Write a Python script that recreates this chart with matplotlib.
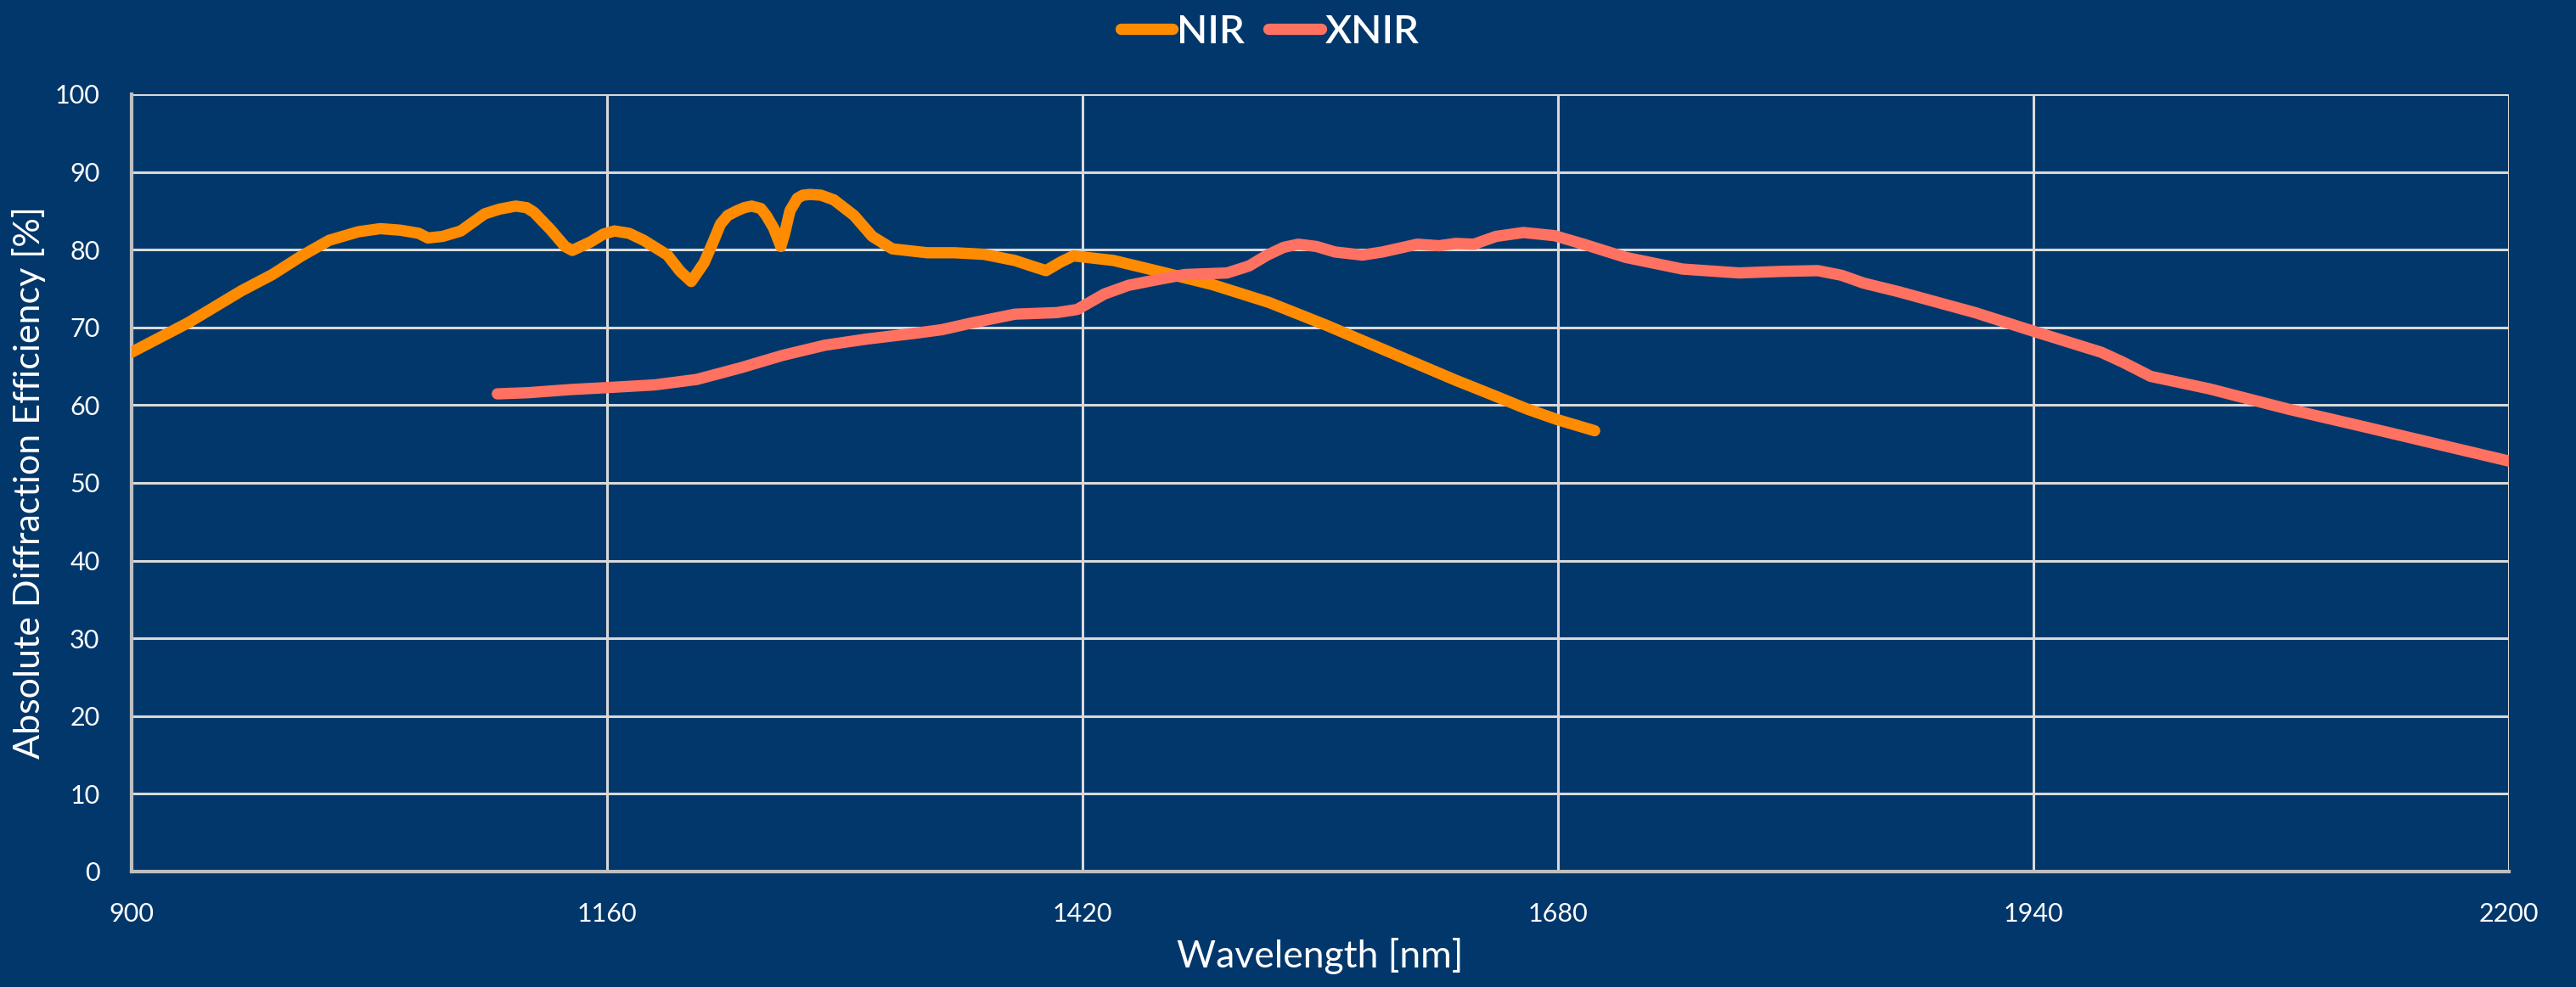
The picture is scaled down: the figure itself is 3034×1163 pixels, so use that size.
import numpy as np
from matplotlib import pyplot as plt

# Data
nir_wavelength = [900, 931, 960, 977, 993, 1008, 1024, 1036, 1047, 1057, 1062, 1070, 1080, 1093,
                  1101, 1110, 1116, 1120, 1129, 1137, 1141, 1151, 1158, 1164, 1172, 1180, 1193,
                  1200, 1206, 1213, 1218, 1222, 1226, 1231, 1235, 1239, 1244, 1247, 1251, 1255,
                  1257, 1260, 1264, 1267, 1271, 1277, 1284, 1295, 1305, 1316, 1335, 1350, 1366,
                  1383, 1392, 1400, 1408, 1415, 1437, 1460, 1491, 1522, 1553, 1584, 1624, 1640,
                  1663, 1680, 1700]
nir_efficiency = [66.8, 70.6, 74.7, 76.8, 79.2, 81.2, 82.3, 82.7, 82.5, 82.1, 81.5, 81.7, 82.4, 84.6,
                  85.2, 85.6, 85.4, 84.8, 82.6, 80.4, 79.9, 81.0, 82.0, 82.4, 82.1, 81.2, 79.3,
                  77.2, 75.9, 78.3, 81.0, 83.3, 84.4, 85.0, 85.4, 85.6, 85.3, 84.4, 82.8, 80.4,
                  82.0, 85.0, 86.6, 87.0, 87.1, 87.0, 86.4, 84.4, 81.7, 80.1, 79.6, 79.6, 79.4,
                  78.6, 77.9, 77.3, 78.4, 79.2, 78.6, 77.3, 75.5, 73.2, 70.3, 67.2, 63.2, 61.7,
                  59.5, 58.1, 56.7]

xnir_wavelength = [1100, 1117, 1140, 1160, 1186, 1209, 1233, 1256, 1279, 1302, 1327, 1343, 1360,
                   1383, 1406, 1417, 1432, 1445, 1460, 1476, 1499, 1511, 1521, 1530, 1538, 1548,
                   1558, 1573, 1584, 1603, 1615, 1624, 1634, 1646, 1661, 1678, 1694, 1717, 1748,
                   1779, 1802, 1822, 1835, 1847, 1866, 1908, 1940, 1977, 1989, 2004, 2036, 2079,
                   2121, 2164, 2200]
xnir_efficiency = [61.45, 61.6, 62.0, 62.25, 62.6, 63.3, 64.8, 66.4, 67.7, 68.5, 69.2, 69.7, 70.6,
                   71.7, 71.9, 72.3, 74.3, 75.4, 76.1, 76.8, 77.0, 77.9, 79.3, 80.3, 80.7, 80.4,
                   79.7, 79.3, 79.7, 80.7, 80.5, 80.8, 80.7, 81.7, 82.2, 81.8, 80.7, 79.0, 77.5,
                   77.0, 77.2, 77.3, 76.7, 75.7, 74.6, 71.9, 69.5, 66.8, 65.5, 63.7, 62.1, 59.5,
                   57.2, 54.8, 52.8]

x_ticks = [900, 1160, 1420, 1680, 1940, 2200]
y_ticks = list(range(0, 101, 10))

bg = '#02376B'
grid_col = '#D9D9D9'

plt.rcParams['font.family'] = ['Lato', 'DejaVu Sans']

fig = plt.figure(figsize=(30.34, 11.63), dpi=100, facecolor=bg)
ax = fig.add_axes([0.0511, 0.117, 0.9229, 0.7876])
ax.set_facecolor(bg)

ax.plot(nir_wavelength, nir_efficiency, color='#FF8C00', lw=9.6,
        solid_capstyle='round', solid_joinstyle='round', label='NIR', zorder=3)
ax.plot(xnir_wavelength, xnir_efficiency, color='#FF7262', lw=9.6,
        solid_capstyle='round', solid_joinstyle='round', label='XNIR', zorder=3)

ax.set_xlim(900, 2200)
ax.set_ylim(0, 100)
ax.set_xticks(x_ticks)
ax.set_yticks(y_ticks)
ax.grid(True, color=grid_col, lw=2.2)
ax.set_axisbelow(True)

for s in ['top', 'right']:
    ax.spines[s].set_visible(False)
for s in ['left', 'bottom']:
    ax.spines[s].set_color('#BFBFBF')
    ax.spines[s].set_linewidth(3)

ax.tick_params(axis='both', length=0, colors='white', labelsize=22)
ax.tick_params(axis='y', pad=27)
ax.tick_params(axis='x', pad=26)

ax.set_xlabel('Wavelength [nm]', color='white', fontsize=32, labelpad=10)
ax.set_ylabel('Absolute Diffraction Efficiency [%]', color='white', fontsize=31, labelpad=8)

fig.legend(loc='upper center', bbox_to_anchor=(0.493, 1.022), ncol=2, frameon=False,
           handlelength=1.3, handletextpad=0.1, columnspacing=0.6,
           labelcolor='white', prop={'weight': 'semibold', 'size': 34})

plt.savefig('out.png', facecolor=bg)
